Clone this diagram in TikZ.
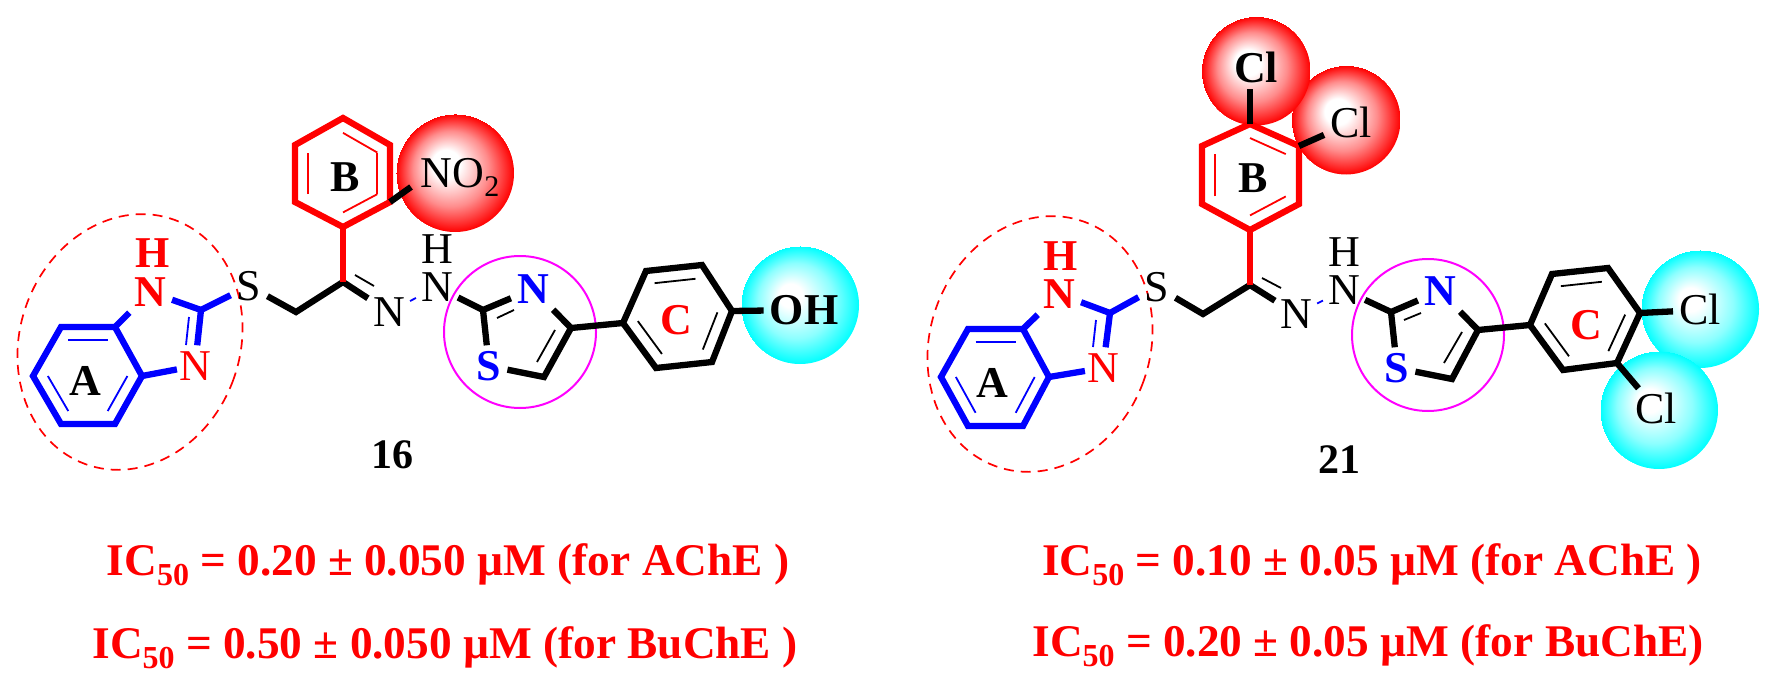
\documentclass[tikz,border=0pt]{standalone}
\usepackage{fontspec}
\setmainfont{Liberation Serif}
\usetikzlibrary{calc}

\definecolor{ringpink}{RGB}{255,0,255}
\definecolor{ballred}{RGB}{255,0,0}
\definecolor{ballredmid}{RGB}{255,140,140}
\definecolor{ballcyan}{RGB}{0,255,255}
\definecolor{ballcyanmid}{RGB}{140,255,255}
\pgfdeclareradialshading{redball}{\pgfpoint{-5bp}{5bp}}{color(0bp)=(white); color(6bp)=(white); color(16bp)=(ballredmid); color(25bp)=(ballred)}
\pgfdeclareradialshading{cyanball}{\pgfpoint{-5bp}{5bp}}{color(0bp)=(white); color(5bp)=(white); color(16bp)=(ballcyanmid); color(25bp)=(ballcyan)}

\newcommand{\atomfont}{\fontsize{44pt}{44pt}\selectfont}
\newcommand{\lowtwo}{\raisebox{-9pt}{\fontsize{30pt}{30pt}\selectfont 2}}
\newcommand{\icname}{IC\raisebox{-10pt}{\fontsize{32pt}{32pt}\selectfont 50}}
\newcommand{\innerbond}[4][]{\draw[thinbond,#1] ($(#2)!.27!(#4)$) -- ($(#3)!.27!(#4)$);}

\tikzset{
  atom/.style={font=\atomfont, inner sep=6pt, text height=29pt, text depth=0pt},
  atomb/.style={atom, font=\atomfont\bfseries},
  bond/.style={line width=6.3pt},
  thinbond/.style={line width=1.8pt},
  ball/.style={circle, inner sep=0pt, minimum size=#1},
  markring/.style={draw=ringpink, line width=2pt},
  markoval/.style={draw=red, line width=1.7pt, dash pattern=on 10pt off 7pt},
  figlabel/.style={font=\fontsize{42pt}{42pt}\selectfont\bfseries},
  icline/.style={font=\fontsize{45.3pt}{45.3pt}\selectfont\bfseries, text=red, anchor=base}
}

\begin{document}
\begin{tikzpicture}[x=1pt, y=-1pt]
\useasboundingbox (0,0) rectangle (1783,682);

%%% compound 16 %%%

      \node[ball=118pt, shading=redball] (lno2ball) at (455,173) {};
      \node[ball=118pt, shading=cyanball] (lohball) at (800,305) {};
      \draw[markoval, rotate around={-20:(130,342)}] (130,342) ellipse [x radius=110, y radius=130];
      \node[ball=152pt, markring] (lthz) at (520,332) {};
      %% ring A
      \coordinate (la1) at (61,327);
      \coordinate (la2) at (115,327);
      \coordinate (la3) at (142,376);
      \coordinate (la4) at (115,424);
      \coordinate (la5) at (61,424);
      \coordinate (la6) at (33,376);
      \coordinate (la0) at (88,376);
      \draw[bond, blue] (la1) -- (la2) -- (la3) -- (la4) -- (la5) -- (la6) -- cycle;
      \innerbond[blue]{la1}{la2}{la0}
      \innerbond[blue]{la6}{la5}{la0}
      \innerbond[blue]{la3}{la4}{la0}
      \node[atomb, text=red] (ln1) at (150,292) {N};
      \node[atomb, text=red, inner sep=0pt] (lh1) at (153,253) {H};
      \node[atom, text=red, inner xsep=2pt] (ln3) at (195,366) {N};
      \coordinate (lc2) at (201,310);
      \coordinate (ldb1) at (189,317);
      \coordinate (ldb2) at (186,345);
      \draw[bond, blue] (la2) -- (ln1);
      \draw[bond, blue] (la3) -- (ln3);
      \draw[bond, blue] (ln1) -- (lc2) -- (ln3);
      \draw[thinbond, blue] (ldb1) -- (ldb2);
      \node[atomb] (llabA) at (85,381) {A};
      %% linker
      \node[atom] (ls) at (249,286) {S};
      \coordinate (lch2) at (296,312);
      \coordinate (lcn) at (343,282);
      \node[atom, inner sep=5pt] (lnim) at (389,312) {N};
      \node[atom, inner sep=5pt] (lnh) at (437,287) {N};
      \node[atom, inner sep=0pt] (lhh) at (437,249) {H};
      \coordinate (ldb3) at (355,275);
      \coordinate (ldb4) at (374,286);
      \draw[bond, blue] (lc2) -- (ls);
      \draw[bond] (ls) -- (lch2) -- (lcn) -- (lnim);
      \draw[thinbond] (ldb3) -- (ldb4);
      \draw[thinbond, blue] (lnim) -- (lnh);
      %% ring B
      \coordinate (lb1) at (343,118);
      \coordinate (lb2) at (390,145);
      \coordinate (lb3) at (390,202);
      \coordinate (lb4) at (343,227);
      \coordinate (lb5) at (295,202);
      \coordinate (lb6) at (295,145);
      \coordinate (lb0) at (343,173);
      \draw[bond, red] (lb1) -- (lb2) -- (lb3) -- (lb4) -- (lb5) -- (lb6) -- cycle;
      \draw[bond, red] (lb4) -- (lcn);
      \innerbond[red]{lb1}{lb2}{lb0}
      \innerbond[red]{lb2}{lb3}{lb0}
      \innerbond[red]{lb3}{lb4}{lb0}
      \innerbond[red]{lb5}{lb6}{lb0}
      \node[atomb] (llabB) at (345,177) {B};
      \node[atom, inner sep=5pt] (lno2) at (460,173) {NO\lowtwo};
      \coordinate (lno2end) at (411,187);
      \draw[bond] (lb3) -- (lno2end);
      %% thiazole
      \coordinate (lt2) at (483,310);
      \node[atomb, blue] (ltn) at (533,289) {N};
      \node[atomb, blue] (lts) at (489,366) {S};
      \coordinate (lt4) at (571,328);
      \coordinate (lt5) at (544,377);
      \coordinate (ldb5) at (497,318);
      \coordinate (ldb6) at (514,310);
      \coordinate (ldb7) at (537,362);
      \coordinate (ldb8) at (555,330);
      \draw[bond] (lnh) -- (lt2) -- (ltn);
      \draw[bond] (lt2) -- (lts);
      \draw[bond] (lts) -- (lt5) -- (lt4) -- (ltn);
      \draw[thinbond] (ldb5) -- (ldb6);
      \draw[thinbond] (ldb7) -- (ldb8);
      %% ring C
      \coordinate (lr1) at (623,323);
      \coordinate (lr2) at (646,271);
      \coordinate (lr3) at (702,265);
      \coordinate (lr4) at (732,311);
      \coordinate (lr5) at (712,362);
      \coordinate (lr6) at (656,368);
      \coordinate (lr0) at (678,316);
      \draw[bond] (lr1) -- (lr2) -- (lr3) -- (lr4) -- (lr5) -- (lr6) -- cycle;
      \draw[bond] (lt4) -- (lr1);
      \innerbond{lr2}{lr3}{lr0}
      \innerbond{lr1}{lr6}{lr0}
      \innerbond{lr4}{lr5}{lr0}
      \node[atomb, text=red] (llabC) at (676,320) {C};
      \node[atomb] (loh) at (804,310) {OH};
      \draw[bond] (lr4) -- (loh);
      \node[figlabel] (lname) at (392,455) {16};
      \node[icline] (lic1) at (448,575) {\icname{} = 0.20 ± 0.050 µM (for AChE )};
      \node[icline] (lic2) at (445,658) {\icname{} = 0.50 ± 0.050 µM (for BuChE )};

%%% compound 21 %%%

      \node[ball=109pt, shading=redball] (rclball2) at (1346,120) {};
      \node[ball=109pt, shading=redball] (rclball1) at (1256,71) {};
      \node[ball=118pt, shading=cyanball] (rclball3) at (1700,309) {};
      \node[ball=118pt, shading=cyanball] (rclball4) at (1659,410) {};
      \draw[markoval, rotate around={-20:(1040,344)}] (1040,344) ellipse [x radius=110, y radius=130];
      \node[ball=152pt, markring] (rthz) at (1428,335) {};
      %% ring A
      \coordinate (ra1) at (968,329);
      \coordinate (ra2) at (1023,329);
      \coordinate (ra3) at (1049,377);
      \coordinate (ra4) at (1023,426);
      \coordinate (ra5) at (968,426);
      \coordinate (ra6) at (941,377);
      \coordinate (ra0) at (996,377);
      \draw[bond, blue] (ra1) -- (ra2) -- (ra3) -- (ra4) -- (ra5) -- (ra6) -- cycle;
      \innerbond[blue]{ra1}{ra2}{ra0}
      \innerbond[blue]{ra6}{ra5}{ra0}
      \innerbond[blue]{ra3}{ra4}{ra0}
      \node[atomb, text=red] (rn1) at (1059,294) {N};
      \node[atomb, text=red, inner sep=0pt] (rh1) at (1061,256) {H};
      \node[atom, text=red, inner xsep=2pt] (rn3) at (1103,368) {N};
      \coordinate (rc2) at (1110,313);
      \coordinate (rdb1) at (1096,320);
      \coordinate (rdb2) at (1093,347);
      \draw[bond, blue] (ra2) -- (rn1);
      \draw[bond, blue] (ra3) -- (rn3);
      \draw[bond, blue] (rn1) -- (rc2) -- (rn3);
      \draw[thinbond, blue] (rdb1) -- (rdb2);
      \node[atomb] (rlabA) at (992,383) {A};
      %% linker
      \node[atom] (rs) at (1157,287) {S};
      \coordinate (rch2) at (1203,314);
      \coordinate (rcn) at (1250,285);
      \node[atom, inner sep=5pt] (rnim) at (1296,314) {N};
      \node[atom, inner sep=5pt] (rnh) at (1344,290) {N};
      \node[atom, inner sep=0pt] (rhh) at (1344,252) {H};
      \coordinate (rdb3) at (1262,278);
      \coordinate (rdb4) at (1281,288);
      \draw[bond, blue] (rc2) -- (rs);
      \draw[bond] (rs) -- (rch2) -- (rcn) -- (rnim);
      \draw[thinbond] (rdb3) -- (rdb4);
      \draw[thinbond, blue] (rnim) -- (rnh);
      %% ring B
      \coordinate (rb1) at (1250,124);
      \coordinate (rb2) at (1299,146);
      \coordinate (rb3) at (1299,204);
      \coordinate (rb4) at (1250,230);
      \coordinate (rb5) at (1202,204);
      \coordinate (rb6) at (1202,146);
      \coordinate (rb0) at (1250,176);
      \draw[bond, red] (rb1) -- (rb2) -- (rb3) -- (rb4) -- (rb5) -- (rb6) -- cycle;
      \draw[bond, red] (rb4) -- (rcn);
      \innerbond[red]{rb1}{rb2}{rb0}
      \innerbond[red]{rb3}{rb4}{rb0}
      \innerbond[red]{rb5}{rb6}{rb0}
      \node[atomb] (rlabB) at (1253,178) {B};
      \node[atomb] (rcl1) at (1256,68) {Cl};
      \node[atom] (rcl2) at (1351,123) {Cl};
      \draw[bond] (rb1) -- (rb1 |- rcl1.south);
      \draw[bond] (rb2) -- (rcl2);
      %% thiazole
      \coordinate (rt2) at (1391,312);
      \node[atomb, blue] (rtn) at (1440,291) {N};
      \node[atomb, blue] (rts) at (1397,368) {S};
      \coordinate (rt4) at (1478,330);
      \coordinate (rt5) at (1452,379);
      \coordinate (rdb5) at (1404,320);
      \coordinate (rdb6) at (1421,313);
      \coordinate (rdb7) at (1444,363);
      \coordinate (rdb8) at (1462,332);
      \draw[bond] (rnh) -- (rt2) -- (rtn);
      \draw[bond] (rt2) -- (rts);
      \draw[bond] (rts) -- (rt5) -- (rt4) -- (rtn);
      \draw[thinbond] (rdb5) -- (rdb6);
      \draw[thinbond] (rdb7) -- (rdb8);
      %% ring C
      \coordinate (rr1) at (1530,325);
      \coordinate (rr2) at (1552,274);
      \coordinate (rr3) at (1608,268);
      \coordinate (rr4) at (1640,313);
      \coordinate (rr5) at (1617,363);
      \coordinate (rr6) at (1563,370);
      \coordinate (rr0) at (1585,319);
      \draw[bond] (rr1) -- (rr2) -- (rr3) -- (rr4) -- (rr5) -- (rr6) -- cycle;
      \draw[bond] (rt4) -- (rr1);
      \innerbond{rr2}{rr3}{rr0}
      \innerbond{rr1}{rr6}{rr0}
      \innerbond{rr4}{rr5}{rr0}
      \node[atomb, text=red] (rlabC) at (1586,325) {C};
      \node[atom] (rcl3) at (1700,310) {Cl};
      \node[atom] (rcl4) at (1656,409) {Cl};
      \draw[bond] (rr4) -- (rcl3);
      \draw[bond] (rr5) -- (rcl4);
      \node[figlabel] (rname) at (1339,460) {21};
      \node[icline] (ric1) at (1372,575) {\icname{} = 0.10 ± 0.05 µM (for AChE )};
      \node[icline] (ric2) at (1368,656) {\icname{} = 0.20 ± 0.05 µM (for BuChE)};

\end{tikzpicture}
\end{document}
